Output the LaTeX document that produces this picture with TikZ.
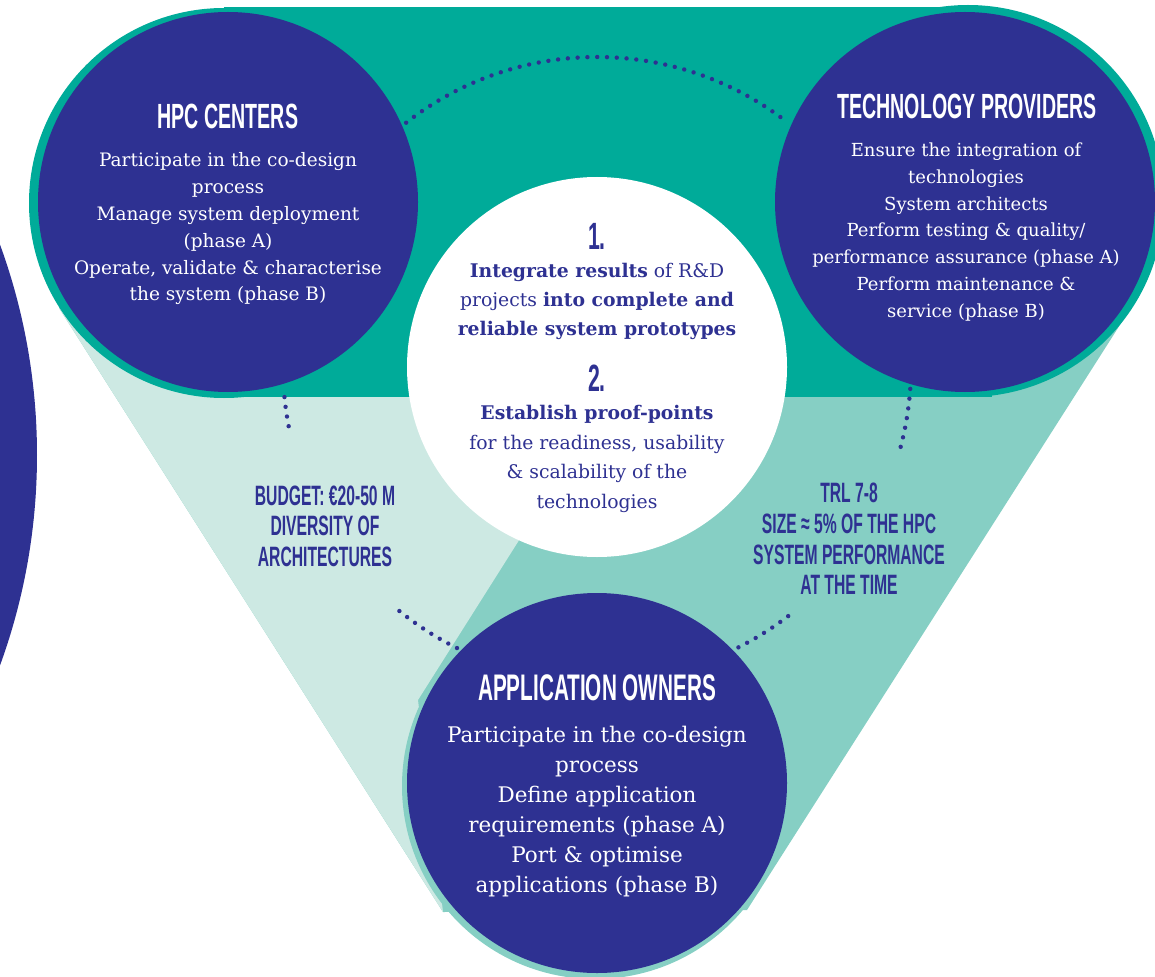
\documentclass[tikz,border=0pt]{standalone}
\usepackage{fontspec}
\setmainfont{DejaVu Serif}
\newfontfamily\headfont[FakeStretch=0.56]{Liberation Sans}
\usepackage{tikz}
\usetikzlibrary{calc}
\definecolor{blu}{HTML}{2E3192}
\definecolor{verde}{HTML}{00AB99}
\definecolor{menta}{HTML}{86CFC4}
\definecolor{mentachiara}{HTML}{CDE9E3}
\tikzset{
	titolo/.style={text=white, font=\headfont\bfseries\fontsize{35}{36}\selectfont},
	corpo/.style={text=white, align=center, font=\fontsize{18.5}{26.8}\selectfont},
	nota/.style={text=blu, align=center, font=\headfont\bfseries\fontsize{28}{30.6}\selectfont},
	puntini/.style={blu, line width=4.4pt, line cap=round, dash pattern=on 0pt off 9.8pt}
}
\begin{document}
\begin{tikzpicture}[x=1pt, y=-1pt]
	\useasboundingbox (0,0) rectangle (1155,976);
	\clip (0,0) rectangle (1155,976);
	%cerchio grande a sinistra
	\fill [blu] (-577,455) circle [radius=614];
	%triangolo in basso
	\fill [menta] (224,203) -- (59,308) -- (443,912) -- (747,910) -- (1132,306) -- (968,201) -- cycle;
	\fill [mentachiara] (224,203) -- (59,308) -- (443,912) -- (418,700) -- (614,390) -- cycle;
	\fill [menta] (595,786) circle [radius=193];
	%fascia in alto
	\fill [verde] (224,7) rectangle (992,397);
	\fill [verde] (224,203) circle [radius=195];
	\fill [verde] (968,201) circle [radius=196];
	%cerchi
	\fill [white] (597,367) circle [radius=190];
	\fill [blu] (228,202) circle [radius=190];
	\fill [blu] (965,202) circle [radius=190];
	\fill [blu] (597,783) circle [radius=190];
	%linee a puntini
	\coordinate (mid) at (597,367);
	\coordinate (a1) at ($(mid)+(-128:310)$);
	\coordinate (a2) at ($(mid)+(174.5:314)$);
	\coordinate (a3) at ($(mid)+(4:314)$);
	\coordinate (a4) at ($(mid)+(129:314)$);
	\coordinate (a5) at ($(mid)+(52.5:314)$);
	\draw [puntini] (a1) arc [start angle=-128, end angle=-52, radius=310];
	\draw [puntini] (a2) arc [start angle=174.5, end angle=168.5, radius=314];
	\draw [puntini] (a3) arc [start angle=4, end angle=16, radius=314];
	\draw [puntini] (a4) arc [start angle=129, end angle=116, radius=314];
	\draw [puntini] (a5) arc [start angle=52.5, end angle=64, radius=314];
	%HPC
	\node [titolo] (hpc) at (228,116) {HPC CENTERS};
	\node [corpo] (hpctxt) at (228,229) {Participate in the co-design\\process\\Manage system deployment\\(phase A)\\Operate, validate \& characterise\\the system (phase B)};
	%fornitori
	\node [titolo] (tp) at (967,106) {TECHNOLOGY PROVIDERS};
	\node [corpo, font=\fontsize{18}{26.7}\selectfont] (tptxt) at (966,232) {Ensure the integration of\\technologies\\System architects\\Perform testing \& quality/\\performance assurance (phase A)\\Perform maintenance \&\\service (phase B)};
	%utenti
	\node [titolo, font=\headfont\bfseries\fontsize{37}{38}\selectfont] (ao) at (597,688) {APPLICATION OWNERS};
	\node [corpo, font=\fontsize{21.5}{30}\selectfont] (aotxt) at (597,812) {Participate in the co-design\\process\\Define application\\requirements (phase A)\\Port \& optimise\\applications (phase B)};
	%centro
	\node [nota, font=\headfont\bfseries\fontsize{38}{40}\selectfont] (n1) at (597,236) {1.};
	\node [corpo, text=blu, font=\fontsize{18.8}{29}\selectfont] (obj1) at (597,301) {{\bfseries Integrate results} of R\&D\\projects {\bfseries into complete and}\\{\bfseries reliable system prototypes}};
	\node [nota, font=\headfont\bfseries\fontsize{38}{40}\selectfont] (n2) at (597,378) {2.};
	\node [corpo, text=blu, font=\fontsize{18.8}{29.7}\selectfont] (obj2) at (597,459) {{\bfseries Establish proof-points}\\for the readiness, usability\\\& scalability of the\\technologies};
	%note laterali
	\node [nota] (budget) at (325,526) {BUDGET: €20-50 M\\DIVERSITY OF\\ARCHITECTURES};
	\node [nota] (trl) at (849,539) {TRL 7-8\\SIZE ≈ 5\% OF THE HPC\\SYSTEM PERFORMANCE\\AT THE TIME};
\end{tikzpicture}
\end{document}
